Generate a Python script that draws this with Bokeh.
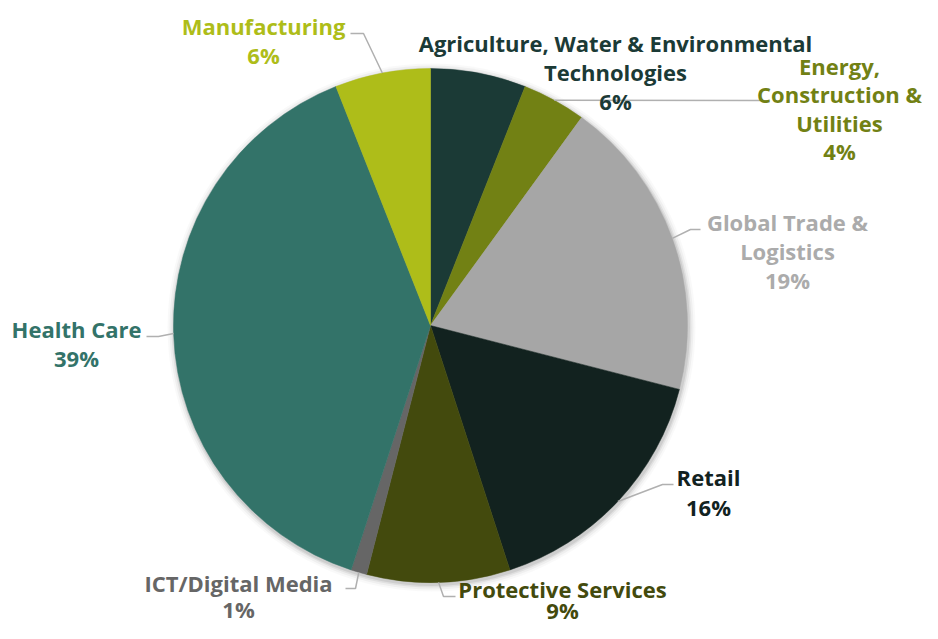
import math
from bokeh.plotting import figure
from bokeh.models import Range1d, ColumnDataSource
from bokeh.core.properties import value
from bokeh.embed import file_html
from bokeh.resources import INLINE

# ---- data (clockwise from 12 o'clock) ----
categories = ["Agriculture, Water & Environmental Technologies",
              "Energy, Construction & Utilities",
              "Global Trade & Logistics",
              "Retail",
              "Protective Services",
              "ICT/Digital Media",
              "Health Care",
              "Manufacturing"]
shares = [6, 4, 19, 16, 9, 1, 39, 6]
colors = ["#1B3A36", "#728114", "#A6A6A6", "#12221F",
          "#434A0D", "#666666", "#337369", "#AEBD19"]
label_colors = ["#1B3A36", "#728114", "#ABABAB", "#12221F",
                "#434A0D", "#666666", "#337369", "#AEBD19"]
label_lines = [["Agriculture, Water & Environmental", "Technologies"],
               ["Energy,", "Construction &", "Utilities"],
               ["Global Trade &", "Logistics"],
               ["Retail"],
               ["Protective Services"],
               ["ICT/Digital Media"],
               ["Health Care"],
               ["Manufacturing"]]

# ---- layout (pixel coordinates, y measured downward from top of plot) ----
W, H = 922, 623
CX, CY, R = 430, 325, 257
label_pos = [(615, 42), (839, 65), (787, 221), (708, 476),
             (562, 588), (238, 582), (76, 328), (263, 25)]
line_h = [29, 28.5, 29, 30, 21, 26, 29, 29]
# leader elbows (None = no leader)
leaders = [None,
           [(768, 100)],
           [(690, 229), (700, 229)],
           [(662, 484), (673, 484)],
           [(443, 596), (455, 596)],
           [(355, 588), (345, 588)],
           [(158, 336), (146, 336)],
           [(363, 33), (350, 33)]]

TOP = 639


def Y(py):
    return TOP - py


p = figure(width=W, height=H, output_backend="svg", toolbar_location=None,
           x_range=Range1d(0, W), y_range=Range1d(TOP - H, TOP),
           min_border=0)
p.axis.visible = False
p.grid.visible = False
p.outline_line_color = None
p.background_fill_color = "white"

total = sum(shares)
starts, ends, mids = [], [], []
cum = 0
for s in shares:
    a0 = math.pi / 2 - cum / total * 2 * math.pi
    cum += s
    a1 = math.pi / 2 - cum / total * 2 * math.pi
    starts.append(a0)
    ends.append(a1)
    mids.append((a0 + a1) / 2)

# soft shadow
for k, a in [(7, 0.025), (5, 0.04), (3, 0.06), (1.5, 0.08)]:
    p.circle(x=CX + 1, y=Y(CY + 2), radius=R + k, fill_color="black",
             fill_alpha=a, line_color=None)

src = ColumnDataSource(dict(start=starts, end=ends, color=colors))
p.wedge(x=CX, y=Y(CY), radius=R, start_angle="start", end_angle="end",
        direction="clock", fill_color="color", line_color="color",
        line_width=0.5, source=src)

# leaders
for i, el in enumerate(leaders):
    if not el:
        continue
    ex = CX + R * math.cos(mids[i])
    ey = Y(CY) + R * math.sin(mids[i])
    xs = [ex] + [q[0] for q in el]
    ys = [ey] + [Y(q[1]) for q in el]
    p.line(xs, ys, line_color="#B0B0B0", line_width=1.5)

# labels
tx, ty, tt, tc = [], [], [], []
for i, lines in enumerate(label_lines):
    x0, y0 = label_pos[i]
    allines = lines + [f"{shares[i]}%"]
    for j, t in enumerate(allines):
        tx.append(x0)
        ty.append(Y(y0 + j * line_h[i]))
        tt.append(t)
        tc.append(label_colors[i])
p.text(x=tx, y=ty, text=tt, text_color=tc, text_align="center",
       text_baseline="middle", text_font=value("Open Sans"),
       text_font_style="bold", text_font_size="22px")

open("out.html", "w").write(file_html(p, INLINE))
